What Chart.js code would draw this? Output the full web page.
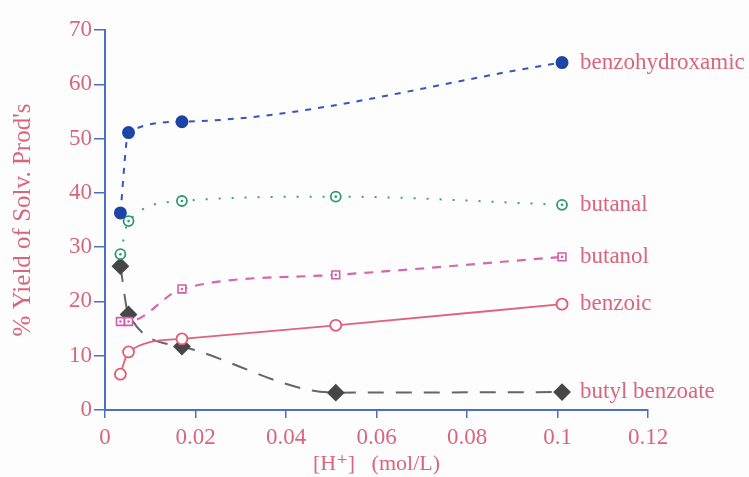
<!DOCTYPE html>
<html>
<head>
<meta charset="utf-8">
<script src="https://cdn.jsdelivr.net/npm/chart.js@4"></script>
<style>
  html, body { margin: 0; padding: 0; background: #fdfdfd; }
  #wrap { width: 749px; height: 477px; }
</style>
</head>
<body>
<div id="wrap"><canvas id="yieldChart" width="749" height="477"></canvas></div>
<script>
const seriesNames = ['benzohydroxamic', 'butanal', 'butanol', 'benzoic', 'butyl benzoate'];
const hConc = [0.0034, 0.0052, 0.017, 0.051, 0.101];
const hConcHydrox = [0.0034, 0.0052, 0.017, 0.101];
const benzohydroxamic = [36.3, 51.1, 53.1, 64.0];
const butanal = [28.7, 34.8, 38.5, 39.3, 37.8];
const butanol = [16.3, 16.3, 22.3, 24.9, 28.2];
const benzoic = [6.6, 10.7, 13.1, 15.6, 19.5];
const butylBenzoate = [26.5, 17.6, 11.7, 3.2, 3.3];
const xTicks = [0, 0.02, 0.04, 0.06, 0.08, 0.1, 0.12];

const labelRed = '#d8667c';
const axisBlue = '#4f6fc6';
const serif = '"Liberation Serif", "DejaVu Serif", serif';

function pts(xs, ys) {
    return ys.map((y, i) => ({ x: xs[i], y: y }));
}

// dot inside the open markers
const dotted = { 1: '#2f9a6e', 2: '#cf5fae' };

const endLabels = {
    id: 'endLabels',
    afterDatasetsDraw(chart) {
        const ctx = chart.ctx;
        ctx.save();
        Object.keys(dotted).forEach(k => {
            const meta = chart.getDatasetMeta(+k);
            ctx.fillStyle = dotted[k];
            meta.data.forEach(p => {
                ctx.beginPath();
                ctx.arc(p.x, p.y, 1.3, 0, Math.PI * 2);
                ctx.fill();
            });
        });
        ctx.font = '23px ' + serif;
        ctx.fillStyle = labelRed;
        ctx.textBaseline = 'middle';
        chart.data.datasets.forEach((ds, i) => {
            const meta = chart.getDatasetMeta(i);
            const last = meta.data[meta.data.length - 1];
            ctx.fillText(seriesNames[i], last.x + 18, last.y);
        });
        ctx.restore();
    }
};

const ctx = document.getElementById('yieldChart').getContext('2d');
const yieldChart = new Chart(ctx, {
    type: 'line',
    data: {
        datasets: [
            {
                label: seriesNames[0],
                data: pts(hConcHydrox, benzohydroxamic),
                borderColor: '#3556bb',
                borderWidth: 2,
                borderDash: [6, 7],
                pointStyle: 'circle',
                pointRadius: 5.5,
                pointBackgroundColor: '#1d44a6',
                pointBorderColor: '#1d44a6',
                cubicInterpolationMode: 'monotone',
            },
            {
                label: seriesNames[1],
                data: pts(hConc, butanal),
                borderColor: '#3aa377',
                borderWidth: 2,
                borderDash: [2, 11],
                pointStyle: 'circle',
                pointRadius: 5,
                pointBorderWidth: 1.8,
                pointBackgroundColor: '#fdfdfd',
                pointBorderColor: '#2f9a6e',
                cubicInterpolationMode: 'monotone',
            },
            {
                label: seriesNames[2],
                data: pts(hConc, butanol),
                borderColor: '#d466b3',
                borderWidth: 2.2,
                borderDash: [9, 8],
                pointStyle: 'rect',
                pointRadius: 5.5,
                pointBorderWidth: 1.6,
                pointBackgroundColor: '#fdfdfd',
                pointBorderColor: '#cf5fae',
                cubicInterpolationMode: 'monotone',
            },
            {
                label: seriesNames[3],
                data: pts(hConc, benzoic),
                borderColor: '#e0627c',
                borderWidth: 1.8,
                pointStyle: 'circle',
                pointRadius: 5.5,
                pointBorderWidth: 1.8,
                pointBackgroundColor: '#fdfdfd',
                pointBorderColor: '#df5c77',
                cubicInterpolationMode: 'monotone',
            },
            {
                label: seriesNames[4],
                data: pts(hConc, butylBenzoate),
                borderColor: '#666666',
                borderWidth: 2,
                borderDash: [16, 12],
                pointStyle: 'rectRot',
                pointRadius: 7.5,
                pointBackgroundColor: '#474747',
                pointBorderColor: '#474747',
                cubicInterpolationMode: 'monotone',
            },
        ],
    },
    options: {
        responsive: false,
        animation: false,
        layout: { padding: { top: 30, right: 101, left: 8, bottom: 0 } },
        plugins: {
            legend: { display: false },
            tooltip: { enabled: false },
        },
        scales: {
            x: {
                type: 'linear',
                min: 0,
                max: 0.12,
                afterBuildTicks: s => { s.ticks = xTicks.map(v => ({ value: v })); },
                afterFit: s => { s.height = 67; },
                border: { color: axisBlue, width: 2 },
                grid: { drawOnChartArea: false, color: axisBlue, tickLength: 8, lineWidth: 1.5 },
                ticks: {
                    color: labelRed,
                    font: { family: serif, size: 23 },
                    padding: 6,
                    maxRotation: 0,
                    callback: v => String(v),
                },
                title: {
                    display: true,
                    text: '[H\u207A]   (mol/L)',
                    color: labelRed,
                    font: { family: serif, size: 22 },
                    padding: { top: 0, bottom: 0 },
                },
            },
            y: {
                min: 0,
                max: 70,
                afterFit: s => { s.width = 97; },
                border: { color: axisBlue, width: 2 },
                grid: { drawOnChartArea: false, color: axisBlue, tickLength: 11, lineWidth: 1.5 },
                ticks: {
                    stepSize: 10,
                    color: labelRed,
                    font: { family: serif, size: 23 },
                    padding: 2,
                },
                title: {
                    display: true,
                    text: "% Yield of Solv. Prod's",
                    color: labelRed,
                    font: { family: serif, size: 25 },
                    padding: { top: 0, bottom: 0 },
                },
            },
        },
    },
    plugins: [endLabels],
});
</script>
</body>
</html>
